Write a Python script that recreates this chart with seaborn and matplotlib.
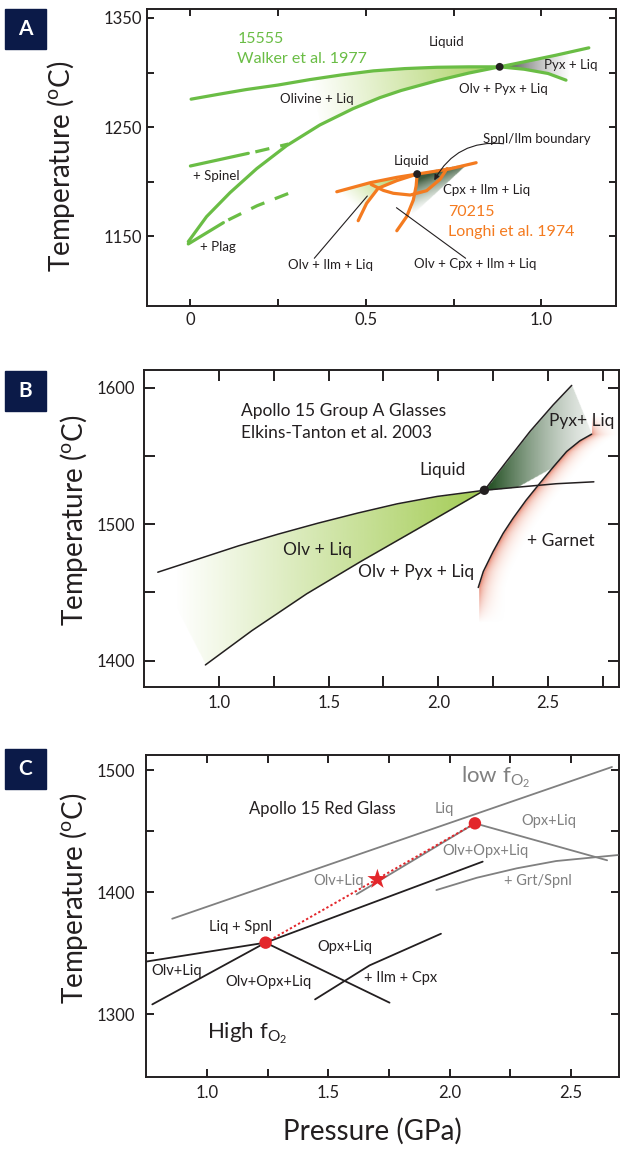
import numpy as np
import matplotlib
matplotlib.use("Agg")
import matplotlib.pyplot as plt
import seaborn as sns
from matplotlib.path import Path
from matplotlib.colors import to_rgba
from matplotlib.patches import Rectangle

# ---------------- Panel A: 15555 (Walker 1977) and 70215 (Longhi 1974)
a_liq_x = [0.002, 0.079, 0.159, 0.249, 0.340, 0.430, 0.521, 0.611, 0.702, 0.793, 0.881]
a_liq_y = [1275.6, 1280.0, 1284.4, 1288.5, 1293.5, 1297.8, 1301.5, 1303.6, 1304.8, 1305.2, 1305.2]
a_sat_x = [-0.006, 0.046, 0.113, 0.189, 0.274, 0.369, 0.464, 0.540, 0.600, 0.702, 0.793, 0.881]
a_sat_y = [1145.1, 1168.0, 1190.0, 1212.0, 1233.0, 1252.0, 1267.0, 1277.0, 1283.5, 1292.5, 1299.5, 1305.2]
a_pyx_up_x = [0.881, 0.951, 1.042, 1.135]
a_pyx_up_y = [1305.2, 1309.8, 1315.9, 1322.6]
a_pyx_lo_x = [0.881, 0.951, 1.019, 1.070]
a_pyx_lo_y = [1305.2, 1303.0, 1299.1, 1293.0]
a_spl_x, a_spl_y = [0.0, 0.165], [1214.4, 1226.0]
a_spl_dash_x, a_spl_dash_y = [0.185, 0.279], [1227.3, 1234.5]
a_plg_x, a_plg_y = [-0.006, 0.094], [1143.0, 1162.5]
a_plg_dash_x, a_plg_dash_y = [0.108, 0.190, 0.289], [1165.0, 1178.0, 1190.5]
a_dot_x, a_dot_y = [0.881, 0.646], [1305.2, 1207.0]

o_liq_x = [0.417, 0.512, 0.588, 0.646, 0.737, 0.814]
o_liq_y = [1190.8, 1199.1, 1204.0, 1207.0, 1211.6, 1217.4]
o_left_x = [0.478, 0.502, 0.535, 0.588, 0.646]
o_left_y = [1164.3, 1180.2, 1194.0, 1201.0, 1207.0]
o_right_x = [0.588, 0.616, 0.635, 0.643, 0.646]
o_right_y = [1155.1, 1168.0, 1183.2, 1196.0, 1207.0]
o_arc_x = [0.515, 0.550, 0.578, 0.626, 0.673, 0.711, 0.731]
o_arc_y = [1197.5, 1192.0, 1189.4, 1187.8, 1191.8, 1202.2, 1212.0]

a_labels = [
    ("15555", 0.134, 1330.5, "#6abd45", 11.5, "left"),
    ("Walker et al. 1977", 0.134, 1312.5, "#6abd45", 11.5, "left"),
    ("Liquid", 0.730, 1328.0, "#231f20", 9.5, "center"),
    ("Pyx + Liq", 1.084, 1307.0, "#231f20", 9.5, "center"),
    ("Olv + Pyx + Liq", 0.892, 1285.0, "#231f20", 9.5, "center"),
    ("Olivine + Liq", 0.359, 1275.9, "#231f20", 9.5, "center"),
    ("+ Spinel", 0.074, 1205.2, "#231f20", 9.5, "center"),
    ("+ Plag", 0.079, 1140.5, "#231f20", 9.5, "center"),
    ("Spnl/Ilm boundary", 0.988, 1238.7, "#231f20", 9.5, "center"),
    ("Liquid", 0.629, 1219.2, "#231f20", 9.5, "center"),
    ("Cpx + Ilm + Liq", 0.844, 1192.4, "#231f20", 9.5, "center"),
    ("70215", 0.734, 1172.3, "#f47b20", 11.5, "left"),
    ("Longhi et al. 1974", 0.734, 1153.7, "#f47b20", 11.5, "left"),
    ("Olv + Ilm + Liq", 0.400, 1123.5, "#231f20", 9.5, "center"),
    ("Olv + Cpx + Ilm + Liq", 0.812, 1124.4, "#231f20", 9.5, "center"),
]
a_leaders = [([0.353, 0.504], [1129.9, 1186.9]), ([0.784, 0.587], [1129.9, 1176.2])]

# ---------------- Panel B: Apollo 15 group A glasses
b_liq_x = [0.721, 0.908, 1.089, 1.270, 1.451, 1.632, 1.813, 1.995, 2.210, 2.357, 2.538, 2.709]
b_liq_y = [1464.8, 1474.6, 1484.1, 1492.7, 1500.7, 1508.1, 1514.9, 1520.3, 1524.8, 1527.0, 1529.6, 1531.0]
b_sat_x = [0.938, 1.150, 1.400, 1.650, 1.900, 2.210]
b_sat_y = [1396.9, 1422.0, 1449.0, 1473.0, 1496.0, 1524.8]
b_pyx_x = [2.210, 2.311, 2.418, 2.524, 2.608]
b_pyx_y = [1524.8, 1545.9, 1567.9, 1587.4, 1601.6]
b_grt_x = [2.182, 2.205, 2.250, 2.296, 2.341, 2.400, 2.463, 2.525, 2.585, 2.645, 2.699]
b_grt_y = [1453.6, 1465.3, 1480.0, 1493.4, 1504.4, 1517.5, 1530.0, 1542.0, 1553.2, 1561.0, 1565.9]
b_dot_x, b_dot_y = [2.210], [1524.8]
b_labels = [
    ("Apollo 15 Group A Glasses", 1.101, 1582.5, "left"),
    ("Elkins-Tanton et al. 2003", 1.101, 1566.7, "left"),
    ("Liquid", 2.018, 1539.3, "center"),
    ("Pyx+ Liq", 2.652, 1575.7, "center"),
    ("+ Garnet", 2.560, 1488.0, "center"),
    ("Olv + Liq", 1.451, 1481.2, "center"),
    ("Olv + Pyx + Liq", 1.900, 1465.3, "center"),
]

# ---------------- Panel C: Apollo 15 red glass
c_low_liq_x, c_low_liq_y = [0.856, 2.669], [1378.1, 1502.5]
c_low_opx_x, c_low_opx_y = [2.104, 2.649], [1456.3, 1426.0]
c_low_olv_x, c_low_olv_y = [1.616, 2.104], [1398.1, 1456.3]
c_grt_x = [1.945, 2.112, 2.276, 2.439, 2.693]
c_grt_y = [1401.6, 1411.7, 1419.4, 1425.4, 1430.3]
c_hi_liq_x, c_hi_liq_y = [0.746, 1.241], [1342.9, 1358.5]
c_hi_up_x, c_hi_up_y = [1.241, 2.136], [1358.5, 1424.9]
c_hi_olv_x, c_hi_olv_y = [0.774, 1.241], [1307.9, 1358.5]
c_hi_opx_x, c_hi_opx_y = [1.241, 1.752], [1358.5, 1309.3]
c_ilm_x, c_ilm_y = [1.445, 1.670, 1.964], [1312.0, 1339.9, 1365.8]
c_path_x, c_path_y = [1.241, 2.104], [1358.5, 1456.3]
c_star_x, c_star_y = [1.702], [1410.4]
c_labels = [
    ("Apollo 15 Red Glass", 1.477, 1468.4, "#231f20", 12),
    ("Liq", 1.979, 1467.8, "#808080", 10.5),
    ("Opx+Liq", 2.407, 1458.0, "#808080", 10.5),
    ("Olv+Opx+Liq", 2.149, 1433.6, "#808080", 10.5),
    ("Olv+Liq", 1.543, 1409.0, "#808080", 10.5),
    ("+ Grt/Spnl", 2.363, 1409.0, "#808080", 10.5),
    ("Liq + Spnl", 1.139, 1371.6, "#231f20", 10.5),
    ("Opx+Liq", 1.568, 1354.9, "#231f20", 10.5),
    ("Olv+Liq", 0.876, 1335.2, "#231f20", 10.5),
    ("Olv+Opx+Liq", 1.254, 1326.2, "#231f20", 10.5),
    ("+ Ilm + Cpx", 1.799, 1329.8, "#231f20", 10.5),
]

GREEN = "#6abd45"
ORANGE = "#f47b20"
INK = "#231f20"
GRAY = "#808080"
RED = "#e3262b"

sns.set_theme(style="ticks")
plt.rcParams["font.family"] = ["Lato", "DejaVu Sans"]
plt.rcParams["mathtext.default"] = "regular"
plt.rcParams["mathtext.fontset"] = "custom"
plt.rcParams["mathtext.rm"] = "Lato"


def paint(ax, t, inside, c0, c1, extra=None):
    x0, x1 = ax.get_xlim()
    y0, y1 = ax.get_ylim()
    t = np.clip(t, 0, 1)[..., None]
    rgba = np.array(to_rgba(c0)) * (1 - t) + np.array(to_rgba(c1)) * t
    rgba[..., 3] *= inside
    if extra is not None:
        rgba[..., 3] *= extra
    ax.imshow(rgba, extent=[x0, x1, y0, y1], origin="lower", aspect="auto",
              interpolation="bilinear", zorder=1)
    ax.set_xlim(x0, x1)
    ax.set_ylim(y0, y1)


def mesh(ax, n=700):
    x0, x1 = ax.get_xlim()
    y0, y1 = ax.get_ylim()
    return np.meshgrid(np.linspace(x0, x1, n), np.linspace(y0, y1, n))


def linear_shade(ax, px, py, p0, p1, c0, c1):
    X, Y = mesh(ax)
    x0, x1 = ax.get_xlim()
    y0, y1 = ax.get_ylim()
    sx, sy = x1 - x0, y1 - y0
    dx, dy = (p1[0] - p0[0]) / sx, (p1[1] - p0[1]) / sy
    t = ((X - p0[0]) / sx * dx + (Y - p0[1]) / sy * dy) / (dx * dx + dy * dy)
    pts = np.column_stack([X.ravel(), Y.ravel()])
    inside = Path(np.column_stack([px, py])).contains_points(pts).reshape(X.shape)
    paint(ax, t, inside, c0, c1)


def style_axes(ax, xlim, ylim, xmaj, xlab, ymaj, ylab, tlen, xpad, ypad):
    ax.set_xlim(*xlim)
    ax.set_ylim(*ylim)
    ax.set_xticks(xmaj)
    ax.set_xticklabels([xlab.get(v, "") for v in xmaj])
    ax.set_yticks(ymaj)
    ax.set_yticklabels([ylab.get(v, "") for v in ymaj])
    ax.tick_params(direction="in", top=True, right=True, length=tlen, width=1.4,
                   color=INK, labelsize=12, labelcolor=INK)
    ax.tick_params(axis="x", pad=xpad)
    ax.tick_params(axis="y", pad=ypad)
    for s in ax.spines.values():
        s.set_linewidth(1.4)
        s.set_color(INK)
    ax.set_xlabel("")
    ax.set_ylabel("")


def line(ax, x, y, color, lw, **kw):
    sns.lineplot(x=x, y=y, sort=False, estimator=None, color=color,
                 linewidth=lw, ax=ax, zorder=3, **kw)


fig = plt.figure(figsize=(6.2, 11.49), dpi=100)

# ================= Panel A
axA = fig.add_axes([0.2366, 0.7337, 0.757, 0.2585])
style_axes(axA, (-0.1245, 1.2125), (1086.2, 1358.2),
           [0, 0.25, 0.5, 0.75, 1.0], {0: "0", 0.5: "0.5", 1.0: "1.0"},
           [1150, 1200, 1250, 1300, 1350], {1150: "1150", 1250: "1250", 1350: "1350"},
           5, 4.5, 3.5)

ux, uy = np.array(a_liq_x), np.array(a_liq_y)
lx, ly = np.array(a_sat_x), np.array(a_sat_y)
su, sl = ux >= 0.30, lx >= 0.30
linear_shade(axA, np.r_[ux[su], lx[sl][::-1]], np.r_[uy[su], ly[sl][::-1]],
             (0.34, 1290), (0.88, 1300), (0.67, 0.82, 0.38, 0.0), (0.67, 0.82, 0.38, 1.0))
linear_shade(axA, np.r_[a_pyx_up_x, a_pyx_lo_x[::-1]], np.r_[a_pyx_up_y, a_pyx_lo_y[::-1]],
             (0.90, 1305), (1.08, 1305), (0.28, 0.29, 0.28, 0.95), (0.6, 0.6, 0.6, 0.0))
linear_shade(axA, np.r_[o_liq_x[:3], o_left_x[::-1][1:], [0.45]],
             np.r_[o_liq_y[:3], o_left_y[::-1][1:], [1176]],
             (0.57, 1200), (0.45, 1182), (0.67, 0.82, 0.38, 0.8), (0.67, 0.82, 0.38, 0.0))
linear_shade(axA, [0.646, 0.700, 0.787, 0.626, 0.635, 0.643],
             [1207.0, 1210.5, 1215.6, 1168.0, 1183.2, 1196.0],
             (0.66, 1203), (0.725, 1182), (0.20, 0.32, 0.20, 0.95), (0.6, 0.7, 0.6, 0.0))

line(axA, a_liq_x, a_liq_y, GREEN, 2.3)
line(axA, a_sat_x, a_sat_y, GREEN, 2.3)
line(axA, a_pyx_up_x, a_pyx_up_y, GREEN, 2.3)
line(axA, a_pyx_lo_x, a_pyx_lo_y, GREEN, 2.3)
line(axA, a_spl_x, a_spl_y, GREEN, 2.3)
line(axA, a_spl_dash_x, a_spl_dash_y, GREEN, 2.3, linestyle=(0, (4.5, 3.5)))
line(axA, a_plg_x, a_plg_y, GREEN, 2.3)
line(axA, a_plg_dash_x, a_plg_dash_y, GREEN, 2.3, linestyle=(0, (4.5, 3.5)))
line(axA, o_liq_x, o_liq_y, ORANGE, 2.3)
line(axA, o_left_x, o_left_y, ORANGE, 2.3)
line(axA, o_right_x, o_right_y, ORANGE, 2.3)
line(axA, o_arc_x, o_arc_y, ORANGE, 2.3)
sns.scatterplot(x=a_dot_x, y=a_dot_y, color=INK, s=32, edgecolor="none", ax=axA, zorder=5)
for lxs, lys in a_leaders:
    axA.plot(lxs, lys, color=INK, lw=0.8, zorder=4)
axA.annotate("", xy=(0.691, 1199.0), xytext=(0.900, 1234.5),
             arrowprops=dict(arrowstyle="-|>", connectionstyle="arc3,rad=0.35",
                             color=INK, lw=0.8, mutation_scale=8), zorder=6)
for txt, x, y, col, fs, ha in a_labels:
    axA.text(x, y, txt, color=col, fontsize=fs, ha=ha, va="center", zorder=6)

# ================= Panel B
axB = fig.add_axes([0.2315, 0.4024, 0.767, 0.2756])
style_axes(axB, (0.656, 2.824), (1381, 1612.9),
           [1.0, 1.25, 1.5, 1.75, 2.0, 2.25, 2.5, 2.75], {1.0: "1.0", 1.5: "1.5", 2.0: "2.0", 2.5: "2.5"},
           [1400, 1450, 1500, 1550, 1600], {1400: "1400", 1500: "1500", 1600: "1600"},
           8, 6, 6)

linear_shade(axB, np.r_[b_liq_x[:9], b_sat_x[::-1]], np.r_[b_liq_y[:9], b_sat_y[::-1]],
             (0.80, 1450), (2.20, 1450), (0.64, 0.80, 0.33, 0.0), (0.64, 0.80, 0.33, 1.0))
gx, gy = np.array(b_grt_x), np.array(b_grt_y)
sg = gx >= 2.5
linear_shade(axB, np.r_[b_pyx_x, gx[sg][::-1], [2.357]], np.r_[b_pyx_y, gy[sg][::-1], [1527.0]],
             (2.24, 1540), (2.70, 1540), (0.16, 0.33, 0.16, 1.0), (0.86, 0.88, 0.86, 0.5))
X, Y = mesh(axB)
t = (X - np.interp(Y, gy, gx)) / 0.12
fade = np.clip((Y - 1428) / 25, 0, 1) * np.clip((1580 - Y) / 15, 0, 1)
paint(axB, np.sqrt(np.clip(t, 0, 1)), t >= 0, (0.86, 0.33, 0.22, 0.9), (1.0, 0.9, 0.85, 0.0), fade)

line(axB, b_liq_x, b_liq_y, INK, 1.1)
line(axB, b_sat_x, b_sat_y, INK, 1.1)
line(axB, b_pyx_x, b_pyx_y, INK, 1.1)
line(axB, b_grt_x, b_grt_y, INK, 1.1)
sns.scatterplot(x=b_dot_x, y=b_dot_y, color=INK, s=45, edgecolor="none", ax=axB, zorder=5)
for txt, x, y, ha in b_labels:
    axB.text(x, y, txt, color=INK, fontsize=12.5, ha=ha, va="center", zorder=6)

# ================= Panel C
axC = fig.add_axes([0.2347, 0.0629, 0.7637, 0.280])
style_axes(axC, (0.746, 2.698), (1248.6, 1512.3),
           [1.0, 1.25, 1.5, 1.75, 2.0, 2.25, 2.5], {1.0: "1.0", 1.5: "1.5", 2.0: "2.0", 2.5: "2.5"},
           [1300, 1350, 1400, 1450, 1500], {1300: "1300", 1400: "1400", 1500: "1500"},
           5.5, 6, 7.5)

for xs, ys in [(c_low_liq_x, c_low_liq_y), (c_low_opx_x, c_low_opx_y),
               (c_low_olv_x, c_low_olv_y), (c_grt_x, c_grt_y)]:
    line(axC, xs, ys, GRAY, 1.3)
for xs, ys in [(c_hi_liq_x, c_hi_liq_y), (c_hi_up_x, c_hi_up_y), (c_hi_olv_x, c_hi_olv_y),
               (c_hi_opx_x, c_hi_opx_y), (c_ilm_x, c_ilm_y)]:
    line(axC, xs, ys, INK, 1.3)
line(axC, c_path_x, c_path_y, RED, 1.4, linestyle=(0, (1.2, 1.2)))
sns.scatterplot(x=[c_path_x[0], c_path_x[-1]], y=[c_path_y[0], c_path_y[-1]], color=RED,
                s=80, edgecolor="none", ax=axC, zorder=5)
sns.scatterplot(x=c_star_x, y=c_star_y, color=RED, marker="*", s=230, edgecolor="none",
                ax=axC, zorder=5)
for txt, x, y, col, fs in c_labels:
    axC.text(x, y, txt, color=col, fontsize=fs, ha="center", va="center", zorder=6)
axC.text(2.046, 1494, r"low f$_{O_2}$", color=GRAY, fontsize=16, ha="left", va="center")
axC.text(0.998, 1284.2, r"High f$_{O_2}$", color=INK, fontsize=16, ha="left", va="center")

# ================= shared labels and panel tags
for yc in [166.7, 520, 898.3]:
    xc = 60.6 if yc < 200 else 74.5
    fig.text(xc / 620, 1 - yc / 1149, r"Temperature ($^{o}$C)", rotation=90,
             ha="center", va="center", fontsize=20, color=INK)
fig.text(372.7 / 620, 1 - 1131 / 1149, "Pressure (GPa)", ha="center", va="center",
         fontsize=20, color=INK)

for tag, top in [("A", 9), ("B", 370.7), ("C", 749)]:
    fig.add_artist(Rectangle((4.7 / 620, 1 - (top + 40) / 1149), 41.3 / 620, 40 / 1149,
                             transform=fig.transFigure, color="#0b1a48"))
    fig.text(25.3 / 620, 1 - (top + 20) / 1149, tag, color="white", fontsize=15,
             fontweight="bold", ha="center", va="center")

fig.savefig("out.png", dpi=100)
